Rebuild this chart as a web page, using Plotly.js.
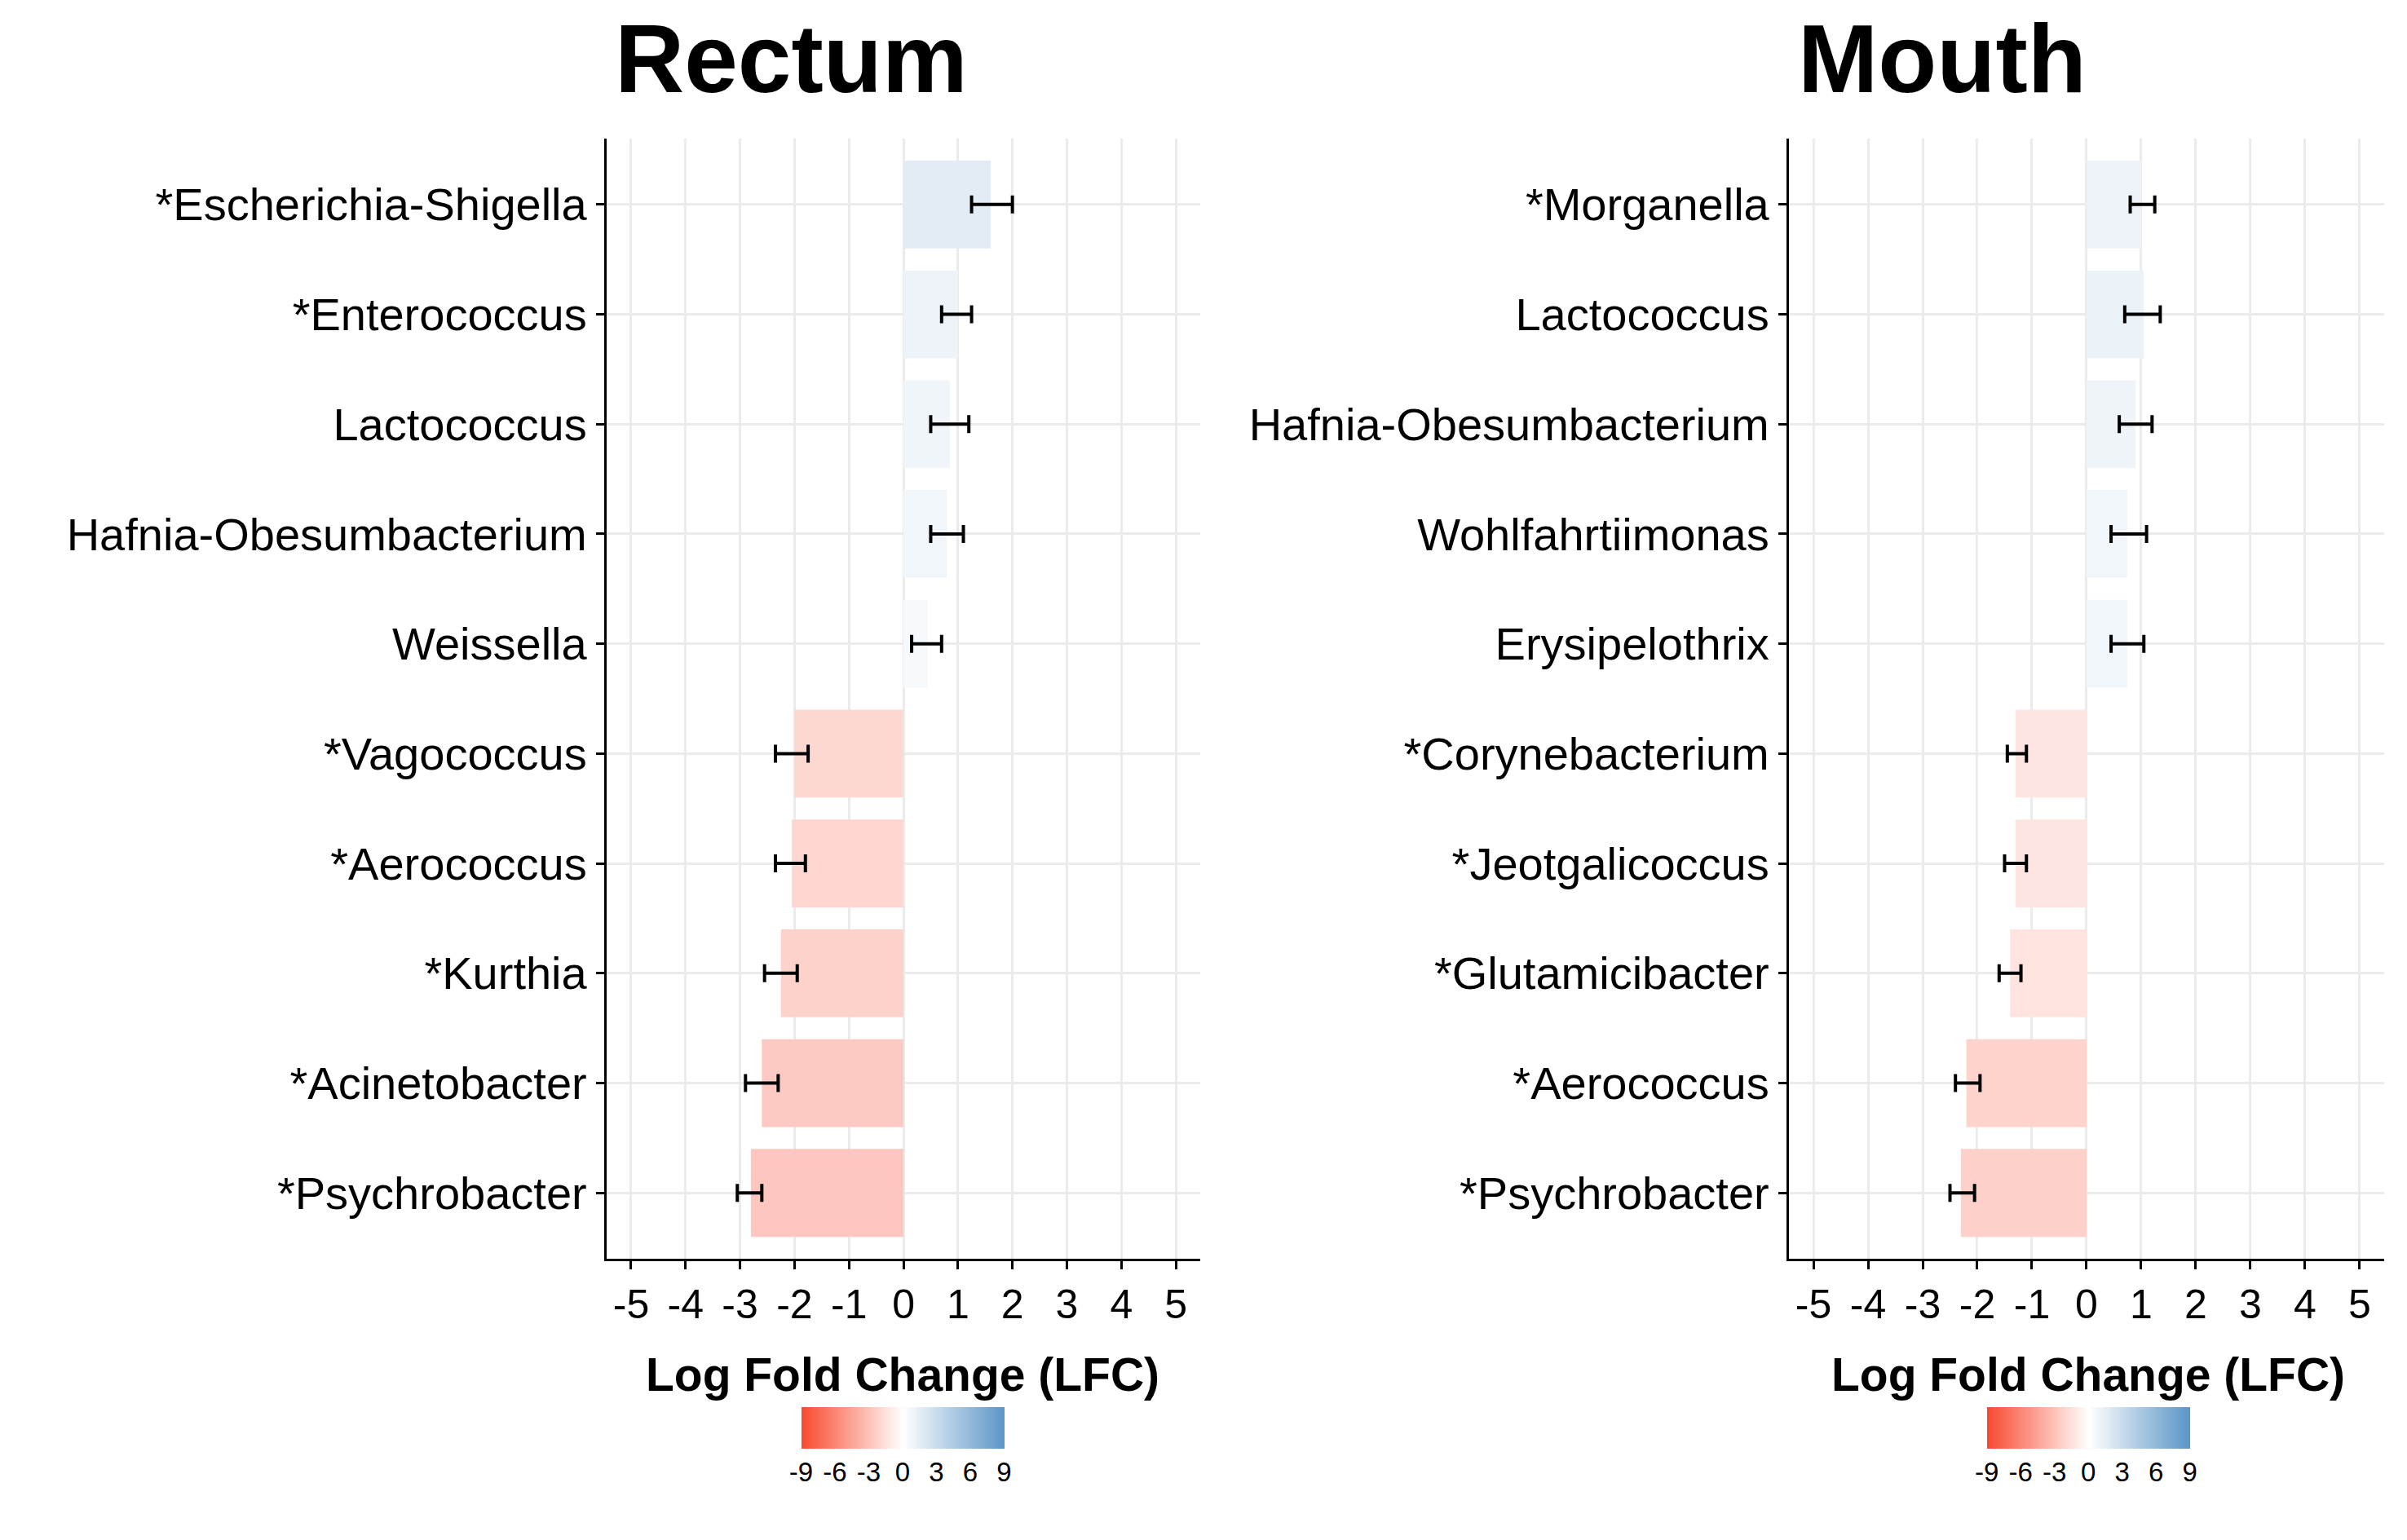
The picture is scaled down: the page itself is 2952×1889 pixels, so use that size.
<!DOCTYPE html>
<html><head><meta charset="utf-8">
<script src="https://cdn.plot.ly/plotly-3.0.1.min.js"></script>
<style>body{margin:0}#c{width:2952px;height:1889px}</style></head>
<body><div id="c"></div>
<script>
const rectumTaxa=["*Escherichia-Shigella","*Enterococcus","Lactococcus","Hafnia-Obesumbacterium","Weissella","*Vagococcus","*Aerococcus","*Kurthia","*Acinetobacter","*Psychrobacter"];
const rectumLFC=[1.6,1.0,0.85,0.8,0.45,-2.0,-2.05,-2.25,-2.6,-2.8];
const rectumLow=[1.25,0.7,0.5,0.5,0.15,-2.35,-2.35,-2.55,-2.9,-3.05];
const rectumHigh=[2.0,1.25,1.2,1.1,0.7,-1.75,-1.8,-1.95,-2.3,-2.6];
const mouthTaxa=["*Morganella","Lactococcus","Hafnia-Obesumbacterium","Wohlfahrtiimonas","Erysipelothrix","*Corynebacterium","*Jeotgalicoccus","*Glutamicibacter","*Aerococcus","*Psychrobacter"];
const mouthLFC=[1.0,1.05,0.9,0.75,0.75,-1.3,-1.3,-1.4,-2.2,-2.3];
const mouthLow=[0.8,0.7,0.6,0.45,0.45,-1.45,-1.5,-1.6,-2.4,-2.5];
const mouthHigh=[1.25,1.35,1.2,1.1,1.05,-1.1,-1.1,-1.2,-1.95,-2.05];
const xTicks=[-5,-4,-3,-2,-1,0,1,2,3,4,5];
const cbTicks=[-9,-6,-3,0,3,6,9];
const cs=[[0,'#F8492F'],[0.5,'#FFFFFF'],[1,'#5B95C7']];
const F="Liberation Sans, Arial, sans-serif";
function tr(taxa,v,lo,hi,xa,ya,ca){
 return {type:'bar',orientation:'h',y:taxa,x:v,xaxis:xa,yaxis:ya,width:0.8,
  marker:{color:v,coloraxis:ca},
  error_x:{type:'data',symmetric:false,array:v.map((d,i)=>hi[i]-d),arrayminus:v.map((d,i)=>d-lo[i]),color:'black',thickness:4,width:11}};
}
function cax(x){return {cmin:-9,cmax:9,colorscale:cs,colorbar:{orientation:'h',x:x,xanchor:'center',y:0.063,yanchor:'middle',len:269,lenmode:'pixels',thickness:51,outlinewidth:0,tickvals:cbTicks,ticktext:cbTicks.map(String),ticks:'',tickfont:{size:33,family:F,color:'black'}}};}
function xa(dom){return {domain:dom,range:[-5.45,5.45],tickvals:xTicks,ticktext:xTicks.map(String),showline:true,linecolor:'black',linewidth:3,ticks:'outside',ticklen:10,tickwidth:3,tickcolor:'black',showgrid:true,gridcolor:'#EBEBEB',gridwidth:3,zeroline:false,tickfont:{size:50,family:F,color:'black'}};}
function ya(anchor){return {domain:[0.1826,0.910],anchor:anchor,autorange:false,range:[9.6,-0.6],showline:true,linecolor:'black',linewidth:3,ticks:'outside',ticklen:10,tickwidth:3,tickcolor:'black',showgrid:true,gridcolor:'#EBEBEB',gridwidth:3,tickfont:{size:56,family:F,color:'black'}};}
const ann=(t,x,y,s)=>({text:t,x:x,y:y,xref:'paper',yref:'paper',xanchor:'center',yanchor:'middle',showarrow:false,font:{size:s,family:F,color:'black'}});
const layout={width:2952,height:1889,margin:{l:0,r:0,t:0,b:0},paper_bgcolor:'white',plot_bgcolor:'white',showlegend:false,font:{family:F},
 xaxis:Object.assign(xa([0.252,0.4987]),{anchor:'y'}),yaxis:ya('x'),
 xaxis2:Object.assign(xa([0.7432,0.9905]),{anchor:'y2'}),yaxis2:ya('x2'),
 coloraxis:cax(0.375),coloraxis2:cax(0.8676),
 annotations:[
  ann('<b>Rectum</b>',0.3286,0.962,118),
  ann('<b>Mouth</b>',0.807,0.962,118),
  ann('<b>Log Fold Change (LFC)</b>',0.375,0.1075,57),
  ann('<b>Log Fold Change (LFC)</b>',0.8676,0.1075,57)
 ]};
Plotly.newPlot('c',[tr(rectumTaxa,rectumLFC,rectumLow,rectumHigh,'x','y','coloraxis'),tr(mouthTaxa,mouthLFC,mouthLow,mouthHigh,'x2','y2','coloraxis2')],layout,{staticPlot:true});
</script></body></html>
